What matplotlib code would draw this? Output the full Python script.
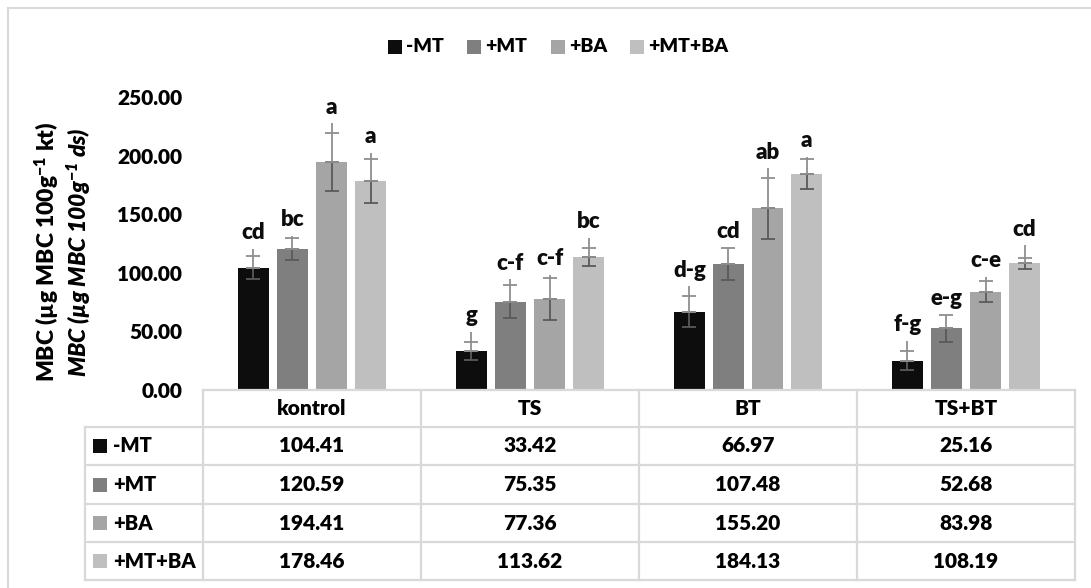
import matplotlib
matplotlib.use("Agg")
import matplotlib.pyplot as plt
from matplotlib.patches import Rectangle
from matplotlib.lines import Line2D
import numpy as np

plt.rcParams['font.family'] = ['Lato', 'DejaVu Sans']
plt.rcParams['font.weight'] = 'heavy'
plt.rcParams['mathtext.default'] = 'regular'

WEIGHT = "heavy"

# ---- data ----
categories = ["kontrol", "TS", "BT", "TS+BT"]
series = ["-MT", "+MT", "+BA", "+MT+BA"]
minus_mt = [104.41, 33.42, 66.97, 25.16]
plus_mt = [120.59, 75.35, 107.48, 52.68]
plus_ba = [194.41, 77.36, 155.20, 83.98]
plus_mt_ba = [178.46, 113.62, 184.13, 108.19]

err_minus_mt = [9.5, 7.5, 13.5, 8.5]
err_plus_mt = [9.5, 14.0, 14.0, 11.5]
err_plus_ba = [25.0, 18.0, 26.0, 8.6]
err_plus_mt_ba = [19.0, 7.5, 13.0, 4.8]

# stem drawn past the upper cap
over_minus_mt = [6.6, 8.5, 8.0, 8.0]
over_plus_mt = [1.4, 5.0, 0.0, 0.0]
over_plus_ba = [8.0, 3.0, 8.0, 4.0]
over_plus_mt_ba = [5.0, 8.5, 2.0, 10.5]

letters_minus_mt = ["cd", "g", "d-g", "f-g"]
letters_plus_mt = ["bc", "c-f", "cd", "e-g"]
letters_plus_ba = ["a", "c-f", "ab", "c-e"]
letters_plus_mt_ba = ["a", "bc", "a", "cd"]

yticks = [0, 50, 100, 150, 200, 250]

values = [minus_mt, plus_mt, plus_ba, plus_mt_ba]
errors = [err_minus_mt, err_plus_mt, err_plus_ba, err_plus_mt_ba]
overs = [over_minus_mt, over_plus_mt, over_plus_ba, over_plus_mt_ba]
letters = [letters_minus_mt, letters_plus_mt, letters_plus_ba, letters_plus_mt_ba]
colors = ["#0d0d0d", "#7f7f7f", "#a5a5a5", "#bfbfbf"]

W, H = 1091, 588
fig = plt.figure(figsize=(W / 100, H / 100), dpi=100)


def fx(px):
    return px / W


def fy(py):
    return 1 - py / H


# plot area
x_left, x_right = 203, 1075
y_zero, y_top = 390, 97
ax = fig.add_axes([fx(x_left), fy(y_zero), fx(x_right) - fx(x_left), fy(y_top) - fy(y_zero)])

x = np.arange(len(categories))
bar_w = 0.142
step = 0.179
dark_err = "#5a5a5a"
light_err = "#8f8f8f"

for i, (vals, errs, ov, labs, col) in enumerate(zip(values, errors, overs, letters, colors)):
    xs = x + (i - 1.5) * step
    vals = np.array(vals)
    errs = np.array(errs)
    ov = np.array(ov)
    ax.bar(xs, vals, width=bar_w, color=col, zorder=2)
    # lower half of the error bar (darker)
    ax.errorbar(xs, vals, yerr=[errs, np.zeros_like(errs)], fmt="none",
                ecolor=dark_err, elinewidth=1.3, capsize=5, capthick=1.3, zorder=3)
    # upper half (lighter) with extended stem
    ax.errorbar(xs, vals, yerr=[np.zeros_like(errs), errs], fmt="none",
                ecolor=light_err, elinewidth=1.3, capsize=5, capthick=1.3, zorder=3)
    tips = vals + errs + ov
    ax.vlines(xs, vals + errs, tips, color=light_err, linewidth=1.3, zorder=3)
    for xx, t, lab in zip(xs, tips, labs):
        ax.annotate(lab, (xx, t), xytext=(0, 7), textcoords="offset points",
                    ha="center", va="baseline", fontsize=16, fontweight=WEIGHT,
                    color="#0d0d0d")

ax.set_xlim(-0.5, len(categories) - 0.5)
ax.set_ylim(0, 250)
ax.set_yticks(yticks)
ax.set_yticklabels([f"{t:.2f}" for t in yticks], fontsize=15, fontweight=WEIGHT)
ax.tick_params(axis="y", length=0, pad=15)
ax.set_xticks([])
for s in ax.spines.values():
    s.set_visible(False)
ax.patch.set_alpha(0)

# y axis title (two lines)
fig.text(fx(47), fy(252), "MBC (µg MBC 100g$^{-1}$ kt)", rotation=90,
         ha="center", va="center", fontsize=16.5, fontweight=WEIGHT)
fig.text(fx(79), fy(252), "MBC (µg MBC 100g$^{-1}$ ds)", rotation=90,
         ha="center", va="center", fontsize=16.5, fontweight=WEIGHT, style="italic")

# outer frame (top and left edges)
frame_c = "#d9d9d9"
fig.add_artist(Line2D([fx(8), fx(W)], [fy(8), fy(8)], color=frame_c, lw=1.5))
fig.add_artist(Line2D([fx(8), fx(8)], [fy(8), fy(H)], color=frame_c, lw=1.5))

# top legend
leg_sq = [388, 467, 551, 630]
leg_y = 47
sq = 14
for px, name, col in zip(leg_sq, series, colors):
    fig.add_artist(Rectangle((fx(px), fy(leg_y + sq / 2)), fx(sq), sq / H,
                             facecolor=col, edgecolor="none"))
    fig.text(fx(px + sq + 4), fy(leg_y), name, ha="left", va="center",
             fontsize=14, fontweight=WEIGHT)

# data table below the plot
tbl_c = "#d9d9d9"
col_x = [85, 203, 421, 639, 857, 1075]
row_y = [390, 427, 465, 504, 542, 580]
lw = 1.6
# horizontal lines
fig.add_artist(Line2D([fx(col_x[1]), fx(col_x[-1])], [fy(row_y[0])] * 2, color=tbl_c, lw=lw))
for ry in row_y[1:]:
    fig.add_artist(Line2D([fx(col_x[0]), fx(col_x[-1])], [fy(ry)] * 2, color=tbl_c, lw=lw))
# vertical lines
fig.add_artist(Line2D([fx(col_x[0])] * 2, [fy(row_y[1]), fy(row_y[-1])], color=tbl_c, lw=lw))
for cx in col_x[1:]:
    fig.add_artist(Line2D([fx(cx)] * 2, [fy(row_y[0]), fy(row_y[-1])], color=tbl_c, lw=lw))

# header row
for j, cat in enumerate(categories):
    cxm = (col_x[j + 1] + col_x[j + 2]) / 2
    fig.text(fx(cxm), fy((row_y[0] + row_y[1]) / 2), cat, ha="center", va="center",
             fontsize=15, fontweight=WEIGHT)

# series rows
for i, (name, vals, col) in enumerate(zip(series, values, colors)):
    rym = (row_y[i + 1] + row_y[i + 2]) / 2
    fig.add_artist(Rectangle((fx(93), fy(rym + 7)), fx(14), 14 / H,
                             facecolor=col, edgecolor="none"))
    fig.text(fx(113), fy(rym), name, ha="left", va="center", fontsize=14.5, fontweight=WEIGHT)
    for j, v in enumerate(vals):
        cxm = (col_x[j + 1] + col_x[j + 2]) / 2
        fig.text(fx(cxm), fy(rym), f"{v:.2f}", ha="center", va="center",
                 fontsize=15, fontweight=WEIGHT)

fig.savefig("out.png", dpi=100)
